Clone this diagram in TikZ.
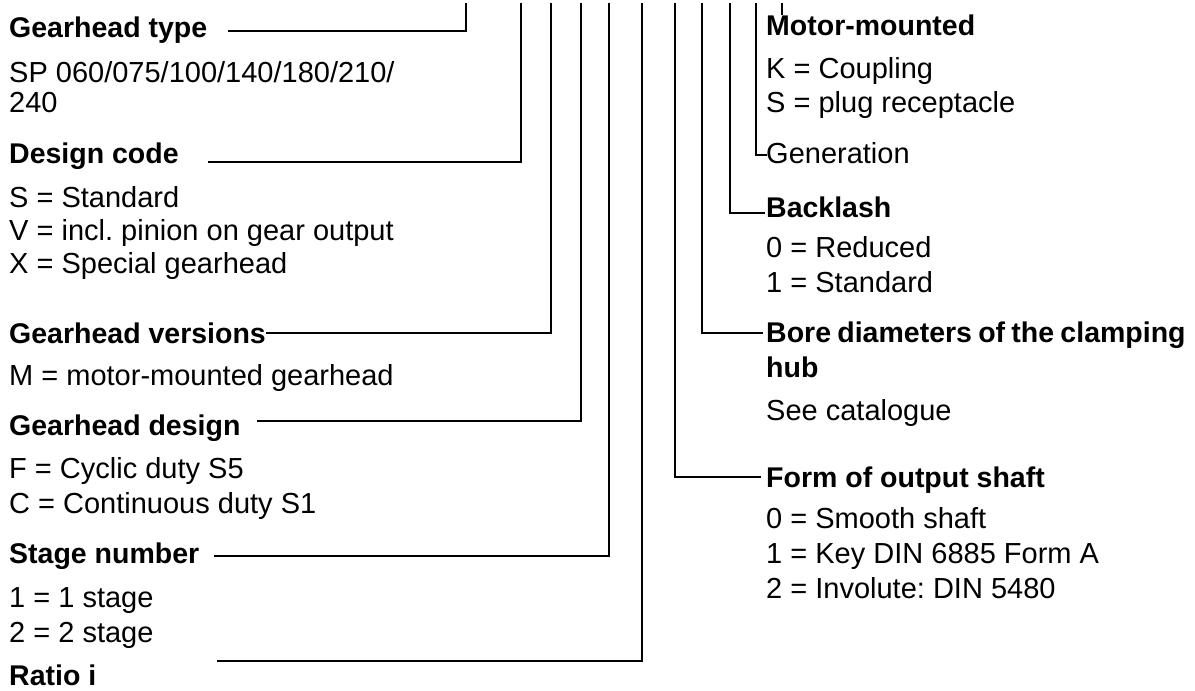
\documentclass[tikz,border=0pt]{standalone}
\usepackage{fontspec}
\setmainfont{Liberation Sans}
\frenchspacing
\begin{document}
\begin{tikzpicture}[x=1pt,y=-1pt,
  lbl/.style={anchor=base west, inner sep=0pt, font=\fontsize{29}{34}\selectfont},
  hd/.style={anchor=base west, inner sep=0pt, font=\fontsize{28.5}{34}\selectfont\bfseries},
  conn/.style={line width=2.7pt, line join=miter}]
\useasboundingbox (0,0) rectangle (1195,691);
% left column
\node[hd]  (gt)  at (9,37)  {Gearhead type};
\node[lbl] (gt1) at (9,82)  {SP 060/075/100/140/180/210/};
\node[lbl] (gt2) at (9,112) {240};
\node[hd]  (dc)  at (9,163) {Design code};
\node[lbl] (dc1) at (9,207) {S = Standard};
\node[lbl] (dc2) at (9,240) {V = incl. pinion on gear output};
\node[lbl] (dc3) at (9,273) {X = Special gearhead};
\node[hd]  (gv)  at (9,343) {Gearhead versions};
\node[lbl] (gv1) at (9,385) {M = motor-mounted gearhead};
\node[hd]  (gd)  at (9,435) {Gearhead design};
\node[lbl] (gd1) at (9,478) {F = Cyclic duty S5};
\node[lbl] (gd2) at (9,513) {C = Continuous duty S1};
\node[hd]  (sn)  at (9,563) {Stage number};
\node[lbl] (sn1) at (9,607) {1 = 1 stage};
\node[lbl] (sn2) at (9,642) {2 = 2 stage};
\node[hd]  (ri)  at (9,685) {Ratio i};
% right column
\node[hd]  (mm)  at (766,35)  {Motor-mounted};
\node[lbl] (mm1) at (766,78)  {K = Coupling};
\node[lbl] (mm2) at (766,112) {S = plug receptacle};
\node[lbl] (ge)  at (766,163) {Generation};
\node[hd]  (bl)  at (766,217) {Backlash};
\node[lbl] (bl1) at (766,257) {0 = Reduced};
\node[lbl] (bl2) at (766,292) {1 = Standard};
\node[hd]  (bd)  at (766,342) {\spaceskip=0.22em Bore diameters of the clamping};
\node[hd]  (bd2) at (766,377) {hub};
\node[lbl] (bd3) at (766,420) {See catalogue};
\node[hd]  (fo)  at (766,487) {Form of output shaft};
\node[lbl] (fo1) at (766,528) {0 = Smooth shaft};
\node[lbl] (fo2) at (766,563) {1 = Key DIN 6885 Form A};
\node[lbl] (fo3) at (766,598) {2 = Involute: DIN 5480};
% top ends of the connectors
\coordinate (t1) at (466,3);
\coordinate (t2) at (521,3);
\coordinate (t3) at (551,3);
\coordinate (t4) at (581,3);
\coordinate (t5) at (609,3);
\coordinate (t6) at (642,3);
\coordinate (t7) at (675,3);
\coordinate (t8) at (702,3);
\coordinate (t9) at (730,3);
\coordinate (t10) at (756,3);
\coordinate (t11) at (782,3);
\coordinate (t11e) at (782,15);
% text-side ends
\coordinate (e1) at (228,31);
\coordinate (e2) at (208,162);
\coordinate (e3) at (gv.east |- 0,333);
\coordinate (e4) at (257,421);
\coordinate (e5) at (214,556);
\coordinate (e6) at (217,661);
\coordinate (e7) at (761,477);
\coordinate (e8) at (763,333);
\coordinate (e9) at (765,213);
\coordinate (e10) at (767,155);
\draw[conn] (t1) |- (e1);
\draw[conn] (t2) |- (e2);
\draw[conn] (t3) |- (e3);
\draw[conn] (t4) |- (e4);
\draw[conn] (t5) |- (e5);
\draw[conn] (t6) |- (e6);
\draw[conn] (t7) |- (e7);
\draw[conn] (t8) |- (e8);
\draw[conn] (t9) |- (e9);
\draw[conn] (t10) |- (e10);
\draw[conn] (t11) -- (t11e);
\end{tikzpicture}
\end{document}
